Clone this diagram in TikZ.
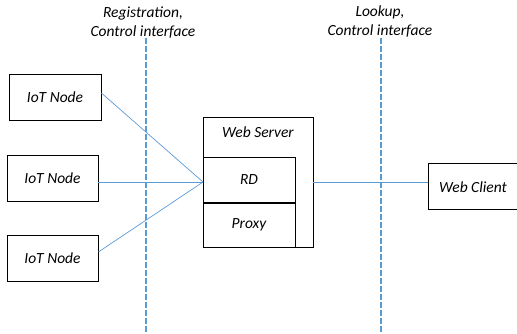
\documentclass[tikz,border=0pt]{standalone}
\usepackage{fontspec}
\setmainfont{Carlito}
\definecolor{linkblue}{HTML}{5B9BD5}
\begin{document}
\begin{tikzpicture}[x=1pt,y=-1pt,
  box/.style={draw=black,line width=0.8pt,inner sep=0pt},
  lbl/.style={font=\fontsize{15.5}{19}\selectfont\itshape},
  link/.style={draw=linkblue,line width=0.7pt},
  divider/.style={draw=linkblue,line width=1.4pt,dash pattern=on 5.5pt off 2.5pt}]
\useasboundingbox (0,0) rectangle (517,333);
\clip (0,0) rectangle (517,333);
% IoT nodes
\node[box,minimum width=92pt,minimum height=46pt,lbl] (n1) at (55,97) {IoT Node};
\node[box,minimum width=91pt,minimum height=46pt,lbl] (n2) at (52.5,178) {IoT Node};
\node[box,minimum width=91pt,minimum height=46pt,lbl] (n3) at (52.5,258) {IoT Node};
% Web server
\node[box,minimum width=110pt,minimum height=130pt] (ws) at (258,182) {};
\node[lbl] (wst) at (258,132) {Web Server};
\node[box,minimum width=92pt,minimum height=45pt,lbl] (rd) at (249,179.5) {RD};
\node[box,minimum width=92pt,minimum height=44pt,lbl] (px) at (249,225) {Proxy};
% Web client
\node[box,minimum width=100pt,minimum height=46pt] (wc) at (478,186) {};
\node[lbl] (wct) at (473,187) {Web Client};
% dividers
\coordinate (d1t) at (146,38);
\coordinate (d1b) at (146,333);
\coordinate (d2t) at (381,38);
\coordinate (d2b) at (381,333);
\draw[divider] (d1t) -- (d1b);
\draw[divider] (d2t) -- (d2b);
\node[lbl,align=center] (reg) at (143,23) {Registration,\\Control interface};
\node[lbl,align=center] (look) at (380,22) {Lookup,\\Control interface};
% links
\coordinate (hub) at (203,182);
\draw[link] (n1.east) ++(0,-4) -- (hub);
\draw[link] (n2.east) ++(0,4) -- (hub);
\draw[link] (n3.east) ++(0,-6) -- (hub);
\draw[link] (hub -| ws.east) -- (hub -| wc.west);
\end{tikzpicture}
\end{document}
